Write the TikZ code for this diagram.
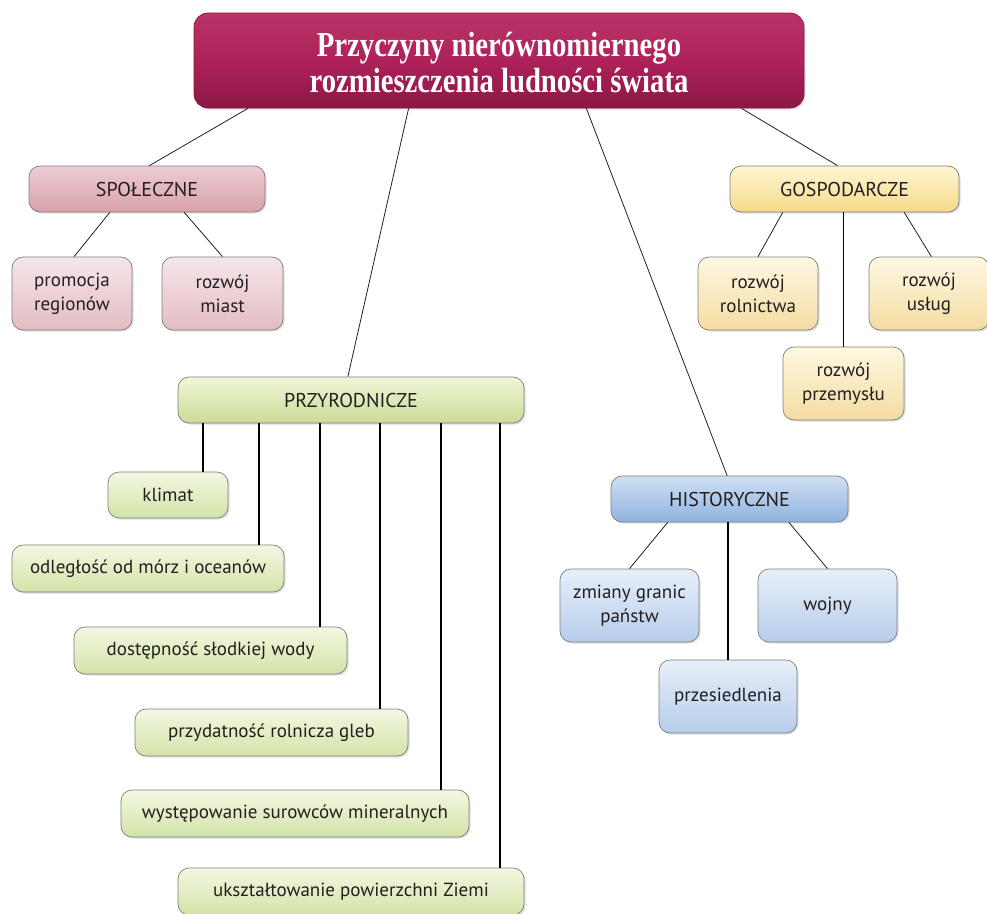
\documentclass[tikz,border=0pt]{standalone}
\usepackage{fontspec}
\setmainfont{PT Sans}
\newfontfamily\titlefont[FakeStretch=0.82]{Liberation Serif}
\usetikzlibrary{calc,shadows}
\definecolor{titA}{HTML}{B93468}
\definecolor{titM}{HTML}{AE2259}
\definecolor{titB}{HTML}{8C1746}
\definecolor{pinkA}{HTML}{EDCDD3}
\definecolor{pinkB}{HTML}{D8A0AA}
\definecolor{pinksA}{HTML}{F6E6E9}
\definecolor{pinksB}{HTML}{E3BCC3}
\definecolor{yelA}{HTML}{FEF6D2}
\definecolor{yelB}{HTML}{F6DA8A}
\definecolor{yelsA}{HTML}{FEF8E2}
\definecolor{yelsB}{HTML}{F4DCA2}
\definecolor{grnA}{HTML}{F0F6D8}
\definecolor{grnB}{HTML}{CADC98}
\definecolor{grnsA}{HTML}{F3F8E2}
\definecolor{grnsB}{HTML}{D3E3A8}
\definecolor{bluA}{HTML}{CFE0F4}
\definecolor{bluB}{HTML}{8FB3E0}
\definecolor{blusA}{HTML}{E7EFF9}
\definecolor{blusB}{HTML}{B7CDEB}
\definecolor{edge}{HTML}{7E7E7E}
\definecolor{ink}{HTML}{231F20}
\tikzset{
  box/.style={rectangle, rounded corners=11pt, draw=edge, line width=0.7pt,
    inner sep=0pt, align=center, text=ink, font=\fontsize{19}{24}\selectfont,
    drop shadow={opacity=0.25, shadow xshift=1.5pt, shadow yshift=-1.5pt}},
  titlebox/.style={box, rounded corners=14pt, draw=titB, top color=titA, bottom color=titB,
    middle color=titM, text=white, font=\titlefont\bfseries\fontsize{35}{35}\selectfont},
  pinkhead/.style={box, top color=pinkA, bottom color=pinkB, font=\fontsize{20}{24}\selectfont},
  pinksub/.style={box, top color=pinksA, bottom color=pinksB},
  yelhead/.style={box, top color=yelA, bottom color=yelB, font=\fontsize{20}{24}\selectfont},
  yelsub/.style={box, top color=yelsA, bottom color=yelsB},
  grnhead/.style={box, top color=grnA, bottom color=grnB, font=\fontsize{20}{24}\selectfont},
  grnsub/.style={box, top color=grnsA, bottom color=grnsB},
  bluhead/.style={box, top color=bluA, bottom color=bluB, font=\fontsize{20}{24}\selectfont},
  blusub/.style={box, top color=blusA, bottom color=blusB},
  thin link/.style={draw=ink, line width=0.8pt},
  thick link/.style={draw=black, line width=1.8pt}
}
\begin{document}
\begin{tikzpicture}[x=1pt,y=-1pt]
\useasboundingbox (0,0) rectangle (987,913);
% title
\node[titlebox, minimum width=610pt, minimum height=95pt] (title) at (499,60.5)
  {\raisebox{-13pt}[0pt][0pt]{\begin{tabular}{@{}c@{}}Przyczyny nierównomiernego\\[1pt]rozmieszczenia ludności świata\end{tabular}}};
% społeczne
\node[pinkhead, minimum width=236pt, minimum height=46pt] (spol) at (147,189) {SPOŁECZNE};
\node[pinksub, minimum width=120pt, minimum height=73pt] (prom) at (72,293.5) {promocja\\regionów};
\node[pinksub, minimum width=121pt, minimum height=73pt] (miast) at (222.5,293.5) {rozwój\\miast};
% gospodarcze
\node[yelhead, minimum width=229pt, minimum height=46pt] (gosp) at (844.5,189) {GOSPODARCZE};
\node[yelsub, minimum width=120pt, minimum height=73pt] (roln) at (758,293.5) {rozwój\\rolnictwa};
\node[yelsub, minimum width=120pt, minimum height=73pt] (uslug) at (929,293.5) {rozwój\\usług};
\node[yelsub, minimum width=121pt, minimum height=73pt] (przem) at (843.5,383.5) {rozwój\\przemysłu};
% przyrodnicze
\node[grnhead, minimum width=346pt, minimum height=46pt] (przy) at (351,400) {PRZYRODNICZE};
\node[grnsub, minimum width=120pt, minimum height=46pt] (klimat) at (168,495) {klimat};
\node[grnsub, minimum width=272pt, minimum height=47pt] (odl) at (148,568.5) {odległość od mórz i oceanów};
\node[grnsub, minimum width=273pt, minimum height=47pt] (dost) at (210.5,650.5) {dostępność słodkiej wody};
\node[grnsub, minimum width=273pt, minimum height=47pt] (przyd) at (271.5,732.5) {przydatność rolnicza gleb};
\node[grnsub, minimum width=348pt, minimum height=47pt] (wyst) at (295,813.5) {występowanie surowców mineralnych};
\node[grnsub, minimum width=346pt, minimum height=47pt] (uksz) at (351,891.5) {ukształtowanie powierzchni Ziemi};
% historyczne
\node[bluhead, minimum width=237pt, minimum height=46pt] (hist) at (729.5,499) {HISTORYCZNE};
\node[blusub, minimum width=139pt, minimum height=73pt] (zmiany) at (629.5,605.5) {zmiany granic\\państw};
\node[blusub, minimum width=139pt, minimum height=73pt] (wojny) at (827.5,605.5) {wojny};
\node[blusub, minimum width=138pt, minimum height=73pt] (przes) at (728,696.5) {przesiedlenia};
% links from title
\draw[thin link] ($(title.south west)!0.089!(title.south east)$) -- ($(spol.north west)!0.51!(spol.north east)$);
\draw[thin link] ($(title.south west)!0.352!(title.south east)$) -- ($(przy.north west)!0.491!(przy.north east)$);
\draw[thin link] ($(title.south west)!0.643!(title.south east)$) -- ($(hist.north west)!0.49!(hist.north east)$);
\draw[thin link] ($(title.south west)!0.897!(title.south east)$) -- ($(gosp.north west)!0.47!(gosp.north east)$);
% społeczne links
\draw[thin link] ($(spol.south west)!0.343!(spol.south east)$) -- ($(prom.north west)!0.517!(prom.north east)$);
\draw[thin link] ($(spol.south west)!0.657!(spol.south east)$) -- (miast.north);
% gospodarcze links
\draw[thin link] ($(gosp.south west)!0.231!(gosp.south east)$) -- (roln.north);
\draw[thick link] (gosp.south -| przem.north) -- (przem.north);
\draw[thin link] ($(gosp.south west)!0.76!(gosp.south east)$) -- ($(uslug.north west)!0.52!(uslug.north east)$);
% historyczne links
\draw[thin link] ($(hist.south west)!0.24!(hist.south east)$) -- (zmiany.north);
\draw[thick link] (hist.south -| przes.north) -- (przes.north);
\draw[thin link] ($(hist.south west)!0.75!(hist.south east)$) -- (wojny.north);
% przyrodnicze links
\coordinate (c1) at ($(klimat.north east)+(-25,0)$);
\coordinate (c2) at ($(odl.north east)+(-25,0)$);
\coordinate (c3) at ($(dost.north east)+(-27,0)$);
\coordinate (c4) at ($(przyd.north east)+(-28,0)$);
\coordinate (c5) at ($(wyst.north east)+(-28,0)$);
\coordinate (c6) at ($(uksz.north east)+(-24,0)$);
\foreach \c in {c1,c2,c3,c4,c5,c6} { \draw[thick link] (przy.south -| \c) -- (\c); }
\end{tikzpicture}
\end{document}
